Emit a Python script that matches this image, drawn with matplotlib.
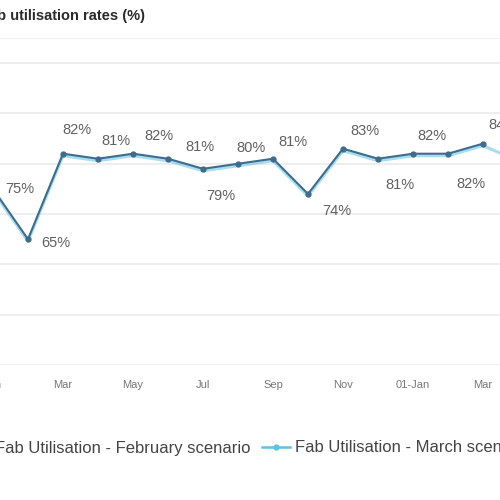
import matplotlib
matplotlib.use("Agg")
import matplotlib.pyplot as plt
from matplotlib.lines import Line2D

plt.rcParams['font.family'] = ['Liberation Sans', 'DejaVu Sans']

months = ["Jan", "Feb", "Mar", "Apr", "May", "Jun", "Jul", "Aug", "Sep",
          "Oct", "Nov", "Dec", "Jan", "Feb", "Mar", "Apr"]
feb_scenario = [75, 65, 82, 81, 82, 81, 79, 80, 81, 74, 83, 81, 82, 82, 84]
mar_scenario = [75, 65, 82, 81, 82, 81, 79, 80, 81, 74, 83, 81, 82, 82, 84, 81]
tick_idx = [0, 2, 4, 6, 8, 10, 12, 14]
tick_labels = ["Jan", "Mar", "May", "Jul", "Sep", "Nov", "01-Jan", "Mar"]
y_grid = [40, 50, 60, 70, 80, 90, 100]

# label offsets in pixels (dx, dy) relative to each point
label_offsets = [(27, 0), (28, -4), (14, 24), (18, 18), (26, 18), (32, 12),
                 (18, -27), (13, 16), (20, 17), (29, -17), (22, 18), (22, -26),
                 (19, 18), (23, -30), (20, 19)]

W, H = 500, 500
fig = plt.figure(figsize=(5, 5), dpi=100)
ax_left_px, ax_right_px = -20, 520
ax_top_px, ax_bot_px = 38, 365
ax = fig.add_axes([ax_left_px / W, 1 - ax_bot_px / H,
                   (ax_right_px - ax_left_px) / W, (ax_bot_px - ax_top_px) / H])

# x pixel = -7 + 35*i
ax.set_xlim((ax_left_px + 7) / 35, (ax_right_px + 7) / 35)
ax.set_ylim(40, 105)

for g in y_grid:
    ax.axhline(g, color='#ededed', lw=1.3, zorder=0)

for s in ['left', 'right', 'bottom']:
    ax.spines[s].set_visible(False)
ax.spines['top'].set_color('#f2f2f2')

x_mar = list(range(len(mar_scenario)))
x_feb = list(range(len(feb_scenario)))
light = '#5cc3e2'
dark = '#3f6b8c'
ax.plot(x_mar, [v - 0.4 for v in mar_scenario], color=light, lw=2.2, alpha=0.55,
        zorder=2)
ax.plot(x_feb, feb_scenario, color=dark, lw=1.5, marker='o', ms=3.5,
        zorder=3)

for i, v in enumerate(feb_scenario):
    dx, dy = label_offsets[i]
    ax.annotate(f"{v}%", (i, v), xytext=(dx, dy), textcoords='offset pixels',
                ha='center', va='center', fontsize=10.5, color='#606060',
                zorder=4)

ax.set_yticks([])
ax.set_xticks(tick_idx)
ax.set_xticklabels(tick_labels, fontsize=8, color='#777777')
ax.tick_params(axis='x', length=0, pad=11)

fig.text(145 / W, 1 - 16 / H, "Fab utilisation rates (%)", ha='right',
         va='center', fontsize=10.5, fontweight='bold', color='#2a2a2a')

handles = [Line2D([], [], color=dark, lw=1.5, marker='o', ms=3.5),
           Line2D([], [], color=light, lw=1.8, marker='o', ms=3.5)]
labels = ["Fab Utilisation - February scenario", "Fab Utilisation - March scenario"]
leg = fig.legend(handles, labels, ncol=2, frameon=False, fontsize=12,
                 loc='center left', bbox_to_anchor=(0, 1 - 448 / H),
                 handlelength=1.7, handletextpad=0.3, columnspacing=0.7,
                 labelcolor='#444444')
fig.canvas.draw()
r = fig.canvas.get_renderer()
t2 = leg.get_texts()[1].get_window_extent(r)
shift = 295 - t2.x0
leg.set_bbox_to_anchor((shift / W, 1 - 448 / H), transform=fig.transFigure)

fig.savefig("out.png", dpi=100)
